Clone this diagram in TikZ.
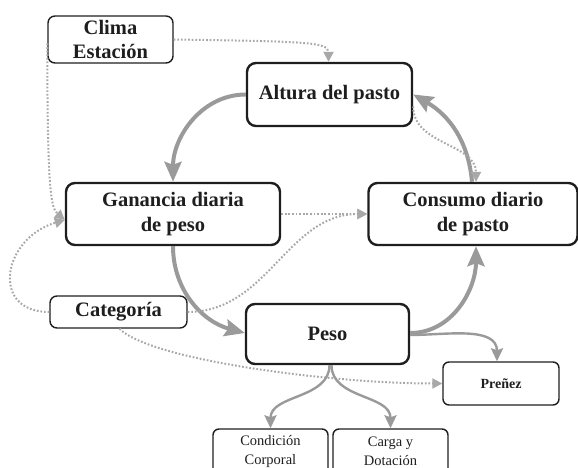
\documentclass[tikz,border=0pt]{standalone}
\usepackage{fontspec}
\setmainfont{Liberation Serif}
\usepackage{tikz}
\usepackage{xcolor}
\usetikzlibrary{arrows.meta,calc}
\definecolor{ink}{HTML}{1E1E1E}
\definecolor{loopgray}{HTML}{9A9A9A}
\definecolor{dotgray}{HTML}{A8A8A8}
\tikzset{
  mainbox/.style={draw=ink,line width=2.4pt,rounded corners=9pt,
                  align=center,inner sep=0pt,text=ink,
                  font=\bfseries\fontsize{20.5}{25}\selectfont},
  sidebox/.style={draw=ink,line width=1.4pt,rounded corners=7pt,
                  align=center,inner sep=0pt,text=ink,
                  font=\bfseries\fontsize{20.5}{24}\selectfont},
  smallbox/.style={draw=ink,line width=1.4pt,rounded corners=6pt,
                   align=center,inner sep=0pt,text=ink,
                   font=\fontsize{14.5}{19}\selectfont},
  looparr/.style={-{Stealth[length=20pt,width=17pt,inset=3pt]},line width=4pt,
                  draw=loopgray},
  thinarr/.style={-{Stealth[length=13pt,width=12pt,inset=2pt]},line width=2.4pt,
                  draw=loopgray},
  dotarr/.style={-{Triangle[length=10pt,width=10pt]},line width=2pt,
                 draw=dotgray,dash pattern=on 1.7pt off 1.9pt}
}
\begin{document}
\begin{tikzpicture}[x=1pt,y=1pt]
    \path[use as bounding box] (0,0) rectangle (578,468);

    \node[sidebox,minimum width=125,minimum height=47] (clima) at (110.5,428.5)
      {Clima\\Estación};
    \node[mainbox,minimum width=165,minimum height=63] (altura) at (329.5,373.5)
      {Altura del pasto};
    \node[mainbox,minimum width=214,minimum height=62] (ganancia) at (173,254)
      {Ganancia diaria\\de peso};
    \node[mainbox,minimum width=209,minimum height=62] (consumo) at (473,254)
      {Consumo diario\\de pasto};
    \node[sidebox,minimum width=137,minimum height=32] (categoria) at (118.5,156)
      {Categoría};
    \node[mainbox,minimum width=163,minimum height=60] (peso) at (327.5,134)
      {Peso};
    \node[smallbox,minimum width=116,minimum height=43,font=\bfseries\fontsize{14}{18}\selectfont]
      (prenez) at (501,84.5) {Preñez};
    \node[smallbox,minimum width=115,minimum height=45] (condicion) at (270.5,16.5)
      {Condición\\Corporal};
    \node[smallbox,minimum width=115,minimum height=45] (carga) at (390.5,16.5)
      {Carga y\\Dotación};

    \draw[looparr] (altura.west) to[out=180,in=90] (ganancia.north);
    \draw[looparr] (ganancia.south) to[out=-90,in=165] ([yshift=1]peso.west);
    \draw[looparr] ([yshift=1]peso.east) to[out=0,in=-90] ([xshift=3]consumo.south);
    \draw[looparr] ([xshift=-1]consumo.north) to[out=95,in=-30] (altura.east);

    \draw[dotarr] ([yshift=-12]altura.east) to[out=-90,in=90] ([xshift=3]consumo.north);
    \draw[dotarr] (clima.east) .. controls +(130,-2) and +(0,20) .. ([xshift=-1]altura.north);
    \draw[dotarr] ([yshift=-4]clima.west) .. controls +(0,-146) and +(-14,12)
      .. ([yshift=-6]ganancia.west);
    \draw[dotarr] (categoria.west) .. controls +(-60,0) and +(-62,-18)
      .. ([yshift=-6]ganancia.west);
    \draw[dotarr] (ganancia.east) -- (consumo.west);
    \draw[dotarr] (categoria.east) to[out=0,in=180] (consumo.west);
    \draw[dotarr] ([xshift=1]categoria.south) .. controls +(30,-31) and +(-113,0)
      .. (prenez.west);

    \draw[thinarr] ([yshift=-1]peso.east) to[out=0,in=90] ([xshift=-4]prenez.north);
    \draw[thinarr] ([xshift=2]peso.south) to[out=-90,in=90] (condicion.north);
    \draw[thinarr] ([xshift=4]peso.south) to[out=-90,in=90] (carga.north);
  \end{tikzpicture}
\end{document}
